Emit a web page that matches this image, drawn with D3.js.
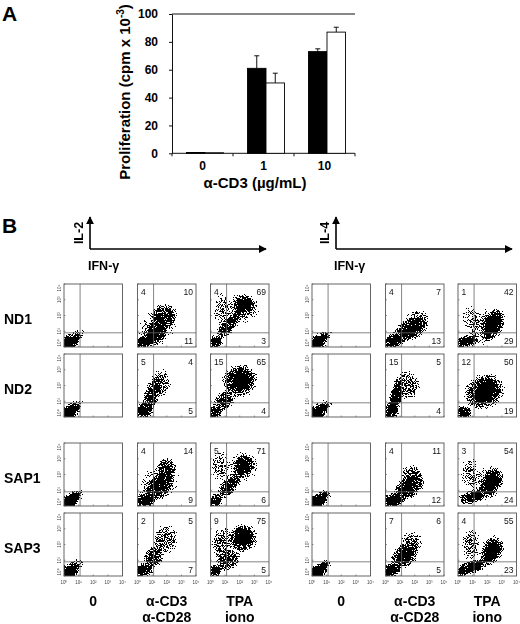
<!DOCTYPE html>
<html><head><meta charset="utf-8">
<script src="https://cdn.jsdelivr.net/npm/d3@7"></script>
<style>
body{margin:0;background:#fff}
svg{display:block;font-family:"Liberation Sans",Arial,sans-serif}
</style></head><body>
<svg id="fig" width="520" height="624"></svg>
<script>
// ---- panel A: proliferation ----
const doses = ["0", "1", "10"];
const blackMean = [0.6, 61, 73];
const blackErr = [0, 9, 2];
const whiteMean = [0.4, 50.5, 87];
const whiteErr = [0, 7, 3.5];
const prolifTicks = [0, 20, 40, 60, 80, 100];

// ---- panel B: intracellular cytokines ----
const donors = ["ND1", "ND2", "SAP1", "SAP3"];
const stimuli = [["0"], ["α-CD3", "α-CD28"], ["TPA", "iono"]];
const decades = [0, 1, 2, 3, 4];
const gateIFN = 1.1, gateCyto = 0.9;
// quadrant % [upper-left, upper-right, lower-right] for the two stimulated columns
const il2Quad = [
  [[4, 10, 11], [4, 69, 3]],
  [[5, 4, 5], [15, 65, 4]],
  [[4, 14, 9], [5, 71, 6]],
  [[2, 5, 7], [9, 75, 5]]
];
const il4Quad = [
  [[4, 7, 13], [1, 42, 29]],
  [[15, 5, 4], [12, 50, 19]],
  [[4, 11, 12], [3, 54, 24]],
  [[7, 6, 5], [4, 55, 23]]
];
// dot clouds: [IFN decade, cytokine decade, rx, ry, angle, density]
const wedge = [[0.0, 0.0, 1.75, 0.55, 40, 1], [0.3, 0.2, 1.1, 0.35, 40, 1], [0.1, 0.05, 0.8, 0.55, 40, 1],
  [0.35, 0.25, 1.0, 0.28, 40, 1], [0.05, 0.05, 0.6, 0.6, 0, 1]];
const il2Clouds = [
  [wedge,
   [[0.45, 0.3, 0.8, 0.45, 20, 1], [1.2, 0.9, 1.1, 0.7, 45, 0.8], [1.8, 1.9, 1.0, 0.85, 55, 0.6], [1.4, 1.3, 1.6, 1.1, 45, 0.3]],
   [[2.3, 2.65, 0.75, 0.65, 20, 1], [0.3, 0.3, 0.6, 0.45, 30, 1], [1.25, 1.4, 1.3, 0.5, 50, 0.65], [0.8, 2.4, 0.6, 1.1, 0, 0.35], [2.2, 2.5, 1.2, 1.0, 20, 0.4]]],
  [wedge,
   [[0.45, 0.4, 0.65, 0.55, 40, 1], [1.0, 1.4, 0.6, 1.3, -20, 0.65], [1.6, 2.2, 0.7, 0.9, 0, 0.4]],
   [[2.0, 2.3, 1.25, 1.1, 20, 0.85], [2.1, 2.3, 0.65, 0.6, 0, 1], [0.3, 0.3, 0.55, 0.45, 0, 0.9], [0.9, 1.0, 0.9, 0.6, 45, 0.6]]],
  [wedge,
   [[0.5, 0.35, 0.9, 0.5, 15, 1], [1.5, 1.3, 1.3, 0.75, 45, 0.7], [2.0, 2.4, 0.7, 0.75, 0, 0.55], [1.5, 1.5, 1.6, 1.1, 45, 0.3]],
   [[2.3, 2.6, 0.7, 0.65, 20, 1], [1.3, 1.3, 1.4, 0.55, 50, 0.6], [0.3, 0.3, 0.55, 0.45, 0, 0.9], [0.7, 2.5, 0.65, 1.1, 0, 0.35], [2.2, 2.5, 1.1, 0.95, 20, 0.4]]],
  [wedge,
   [[0.4, 0.35, 0.75, 0.5, 20, 1], [1.1, 1.2, 0.9, 0.65, 60, 0.65], [1.9, 2.3, 0.9, 1.0, 0, 0.45]],
   [[2.2, 2.4, 1.05, 0.95, 20, 0.95], [2.3, 2.5, 0.6, 0.6, 0, 1], [0.8, 2.0, 0.7, 1.2, 0, 0.45], [0.3, 0.3, 0.5, 0.45, 0, 0.85], [1.2, 1.0, 1.0, 0.65, 40, 0.6]]]
];
const il4Clouds = [
  [wedge,
   [[0.5, 0.35, 1.0, 0.5, 20, 1], [1.7, 1.1, 1.35, 0.7, 25, 0.75], [2.2, 1.7, 0.9, 0.65, 0, 0.45]],
   [[2.4, 1.4, 1.25, 0.7, 65, 0.95], [2.3, 1.5, 0.8, 0.45, 65, 1], [0.6, 0.35, 0.9, 0.4, 10, 0.9], [0.9, 1.8, 0.65, 0.9, 0, 0.3], [1.9, 1.3, 1.5, 1.0, 45, 0.35]]],
  [wedge,
   [[0.4, 0.4, 0.6, 0.55, 0, 1], [0.7, 1.3, 0.45, 1.3, -10, 0.85], [1.5, 2.0, 0.9, 1.0, 0, 0.45]],
   [[1.8, 1.6, 1.5, 1.15, 30, 0.75], [2.0, 1.7, 0.8, 0.75, 30, 0.7], [0.4, 0.3, 0.65, 0.45, 0, 0.85]]],
  [wedge,
   [[0.5, 0.35, 1.0, 0.5, 15, 1], [1.6, 1.2, 1.25, 0.75, 35, 0.75], [1.8, 2.0, 0.75, 0.65, 0, 0.5]],
   [[2.3, 1.5, 1.15, 0.7, 65, 1], [2.3, 1.5, 0.75, 0.45, 65, 1], [1.0, 0.6, 1.1, 0.45, 15, 0.8], [0.8, 2.1, 0.65, 1.0, 0, 0.35], [1.9, 1.4, 1.5, 1.0, 45, 0.3]]],
  [wedge,
   [[0.4, 0.35, 0.75, 0.5, 20, 1], [1.3, 1.3, 1.15, 0.75, 40, 0.75], [1.8, 2.1, 0.75, 0.75, 0, 0.45]],
   [[2.3, 1.6, 1.15, 0.75, 60, 1], [2.3, 1.6, 0.75, 0.5, 60, 1], [1.0, 0.6, 1.1, 0.45, 15, 0.8], [0.9, 2.0, 0.65, 1.1, 0, 0.4], [0.3, 0.25, 0.5, 0.4, 0, 0.9]]]
];

const svg = d3.select("#fig");
const defs = svg.append("defs");

// ---------- panel A ----------
svg.append("text").attr("x", 2).attr("y", 21)
  .style("font-size", "21px").style("font-weight", "bold").text("A");

const xA = d3.scaleBand().domain(doses).range([172, 355]);
const yA = d3.scaleLinear().domain([0, 100]).range([153.3, 14]);
const xS = d3.scaleBand().domain(["black", "white"]).range([14.5, 51.5]);

const gA = svg.append("g");
gA.append("g")
  .attr("transform", `translate(${xA.range()[0]},0)`)
  .call(d3.axisLeft(yA).tickValues(prolifTicks).tickSize(3).tickPadding(11).tickSizeOuter(0))
  .call(g => g.selectAll("text").style("font-size", "12px").style("font-weight", "bold")
    .style("font-family", "'Liberation Sans',Arial,sans-serif"))
  .call(g => g.selectAll("line,path").attr("stroke", "#111"));

gA.append("line").attr("x1", xA.range()[0]).attr("x2", xA.range()[1])
  .attr("y1", yA(100)).attr("y2", yA(100)).attr("stroke", "#111");
gA.append("line").attr("x1", xA.range()[0]).attr("x2", xA.range()[1])
  .attr("y1", yA(0)).attr("y2", yA(0)).attr("stroke", "#111");
gA.selectAll(".btick").data(doses.concat(["end"])).join("line")
  .attr("x1", (d, i) => xA.range()[0] + i * xA.bandwidth())
  .attr("x2", (d, i) => xA.range()[0] + i * xA.bandwidth())
  .attr("y1", yA(0)).attr("y2", yA(0) + 3).attr("stroke", "#111");

gA.selectAll(".xlab").data(doses).join("text")
  .attr("x", d => xA(d) + xA.bandwidth() / 2).attr("y", 170)
  .attr("text-anchor", "middle").style("font-size", "12px").style("font-weight", "bold")
  .text(d => d);

const barData = doses.flatMap((d, i) => [
  {dose: d, s: "black", v: blackMean[i], e: blackErr[i]},
  {dose: d, s: "white", v: whiteMean[i], e: whiteErr[i]}
]);
const bars = gA.selectAll(".bar").data(barData).join("g");
bars.append("line")
  .attr("x1", d => xA(d.dose) + xS(d.s) + xS.bandwidth() / 2)
  .attr("x2", d => xA(d.dose) + xS(d.s) + xS.bandwidth() / 2)
  .attr("y1", d => yA(d.v)).attr("y2", d => yA(d.v + d.e))
  .attr("stroke", "#111").style("display", d => d.e ? null : "none");
bars.append("line")
  .attr("x1", d => xA(d.dose) + xS(d.s) + xS.bandwidth() / 2 - 2.5)
  .attr("x2", d => xA(d.dose) + xS(d.s) + xS.bandwidth() / 2 + 2.5)
  .attr("y1", d => yA(d.v + d.e)).attr("y2", d => yA(d.v + d.e))
  .attr("stroke", "#111").style("display", d => d.e ? null : "none");
bars.append("rect")
  .attr("x", d => xA(d.dose) + xS(d.s))
  .attr("width", xS.bandwidth())
  .attr("y", d => yA(d.v)).attr("height", d => yA(0) - yA(d.v))
  .attr("fill", d => d.s === "black" ? "#000" : "#fff")
  .attr("stroke", "#000").attr("stroke-width", 0.9);

const yt = gA.append("text").attr("transform", "translate(130,92) rotate(-90)")
  .attr("text-anchor", "middle").style("font-size", "15px").style("font-weight", "bold");
yt.append("tspan").text("Proliferation (cpm x 10");
yt.append("tspan").attr("dy", -6).style("font-size", "10px").text("-3");
yt.append("tspan").attr("dy", 6).text(")");

gA.append("text").attr("x", 255).attr("y", 188).attr("text-anchor", "middle")
  .style("font-size", "15px").style("font-weight", "bold").text("α-CD3 (µg/mL)");

// ---------- panel B ----------
svg.append("text").attr("x", 2).attr("y", 233)
  .style("font-size", "21px").style("font-weight", "bold").text("B");

defs.append("marker").attr("id", "arrow").attr("viewBox", "0 0 10 10")
  .attr("refX", 9).attr("refY", 5).attr("markerWidth", 5).attr("markerHeight", 5)
  .attr("orient", "auto")
  .append("path").attr("d", "M0,0L10,5L0,10Z").attr("fill", "#000");

const grad = defs.append("radialGradient").attr("id", "cloud");
[[0, 1], [0.4, 0.95], [0.75, 0.6], [1, 0]].forEach(s =>
  grad.append("stop").attr("offset", s[0]).attr("stop-color", "#000").attr("stop-opacity", s[1]));

// stipple: keep a pixel where the cloud density beats a noise field
const filt = defs.append("filter").attr("id", "stipple")
  .attr("filterUnits", "userSpaceOnUse").attr("x", 0).attr("y", 0)
  .attr("width", 520).attr("height", 624)
  .attr("color-interpolation-filters", "sRGB");
filt.append("feTurbulence").attr("type", "fractalNoise").attr("baseFrequency", 0.9)
  .attr("numOctaves", 2).attr("seed", 7).attr("result", "noise");
filt.append("feColorMatrix").attr("in", "noise").attr("type", "matrix")
  .attr("values", "0 0 0 0 0  0 0 0 0 0  0 0 0 0 0  2.6 0 0 0 -0.8").attr("result", "n0");
const nf = filt.append("feComponentTransfer").attr("in", "n0").attr("result", "n");
nf.append("feFuncA").attr("type", "linear").attr("slope", 0.94).attr("intercept", 0.04);
filt.append("feComposite").attr("in", "SourceGraphic").attr("in2", "n")
  .attr("operator", "arithmetic").attr("k1", 0).attr("k2", 1).attr("k3", -1).attr("k4", 0.5)
  .attr("result", "diff");
const ct = filt.append("feComponentTransfer").attr("in", "diff");
ct.append("feFuncR").attr("type", "linear").attr("slope", 0).attr("intercept", 0);
ct.append("feFuncG").attr("type", "linear").attr("slope", 0).attr("intercept", 0);
ct.append("feFuncB").attr("type", "linear").attr("slope", 0).attr("intercept", 0);
ct.append("feFuncA").attr("type", "discrete").attr("tableValues", "0 1");

const rowTops = [284, 354, 443, 513];
const boxW = 58.5, boxH = 63;
const panels = [
  {key: "il2", label: "IL-2", axisX: 90, cols: [64, 137.5, 210.5], clouds: il2Clouds, quad: il2Quad},
  {key: "il4", label: "IL-4", axisX: 336, cols: [312, 385.5, 458], clouds: il4Clouds, quad: il4Quad}
];

const blobLayer = svg.append("g").attr("filter", "url(#stipple)");
const frameLayer = svg.append("g");

panels.forEach(p => {
  // axis key
  frameLayer.append("line").attr("x1", p.axisX).attr("x2", p.axisX)
    .attr("y1", 249).attr("y2", 217).attr("stroke", "#000").attr("stroke-width", 1.6)
    .attr("marker-end", "url(#arrow)");
  frameLayer.append("line").attr("x1", p.axisX).attr("x2", p.axisX + 176)
    .attr("y1", 249).attr("y2", 249).attr("stroke", "#000").attr("stroke-width", 1.6)
    .attr("marker-end", "url(#arrow)");
  frameLayer.append("text").attr("transform", `translate(${p.axisX - 7},233) rotate(-90)`)
    .attr("text-anchor", "middle").style("font-size", "12.5px").style("font-weight", "bold")
    .text(p.label);
  frameLayer.append("text").attr("x", p.axisX - 2).attr("y", 270)
    .style("font-size", "12.5px").style("font-weight", "bold").text("IFN-γ");

  stimuli.forEach((st, c) => {
    const left = p.cols[c];
    const lab = frameLayer.append("text").attr("text-anchor", "middle")
      .style("font-size", "14px").style("font-weight", "bold");
    st.forEach((t, k) => lab.append("tspan").attr("x", left + boxW / 2)
      .attr("y", 606 + k * 16).text(t));
  });

  donors.forEach((donor, r) => {
    const top = rowTops[r];
    if (p.key === "il2") {
      frameLayer.append("text").attr("x", 4).attr("y", top + boxH / 2 + 8)
        .style("font-size", "14px").style("font-weight", "bold").text(donor);
    }
    stimuli.forEach((st, c) => {
      const left = p.cols[c];
      const x = d3.scaleLinear().domain([0, 4]).range([left, left + boxW]);
      const y = d3.scaleLinear().domain([0, 4]).range([top + boxH, top]);
      const id = `clip-${p.key}-${r}-${c}`;
      defs.append("clipPath").attr("id", id).append("rect")
        .attr("x", left).attr("y", top).attr("width", boxW).attr("height", boxH);

      blobLayer.append("g").attr("clip-path", `url(#${id})`)
        .selectAll("ellipse").data(p.clouds[r][c]).join("ellipse")
        .attr("cx", d => x(d[0])).attr("cy", d => y(d[1]))
        .attr("rx", d => x(d[2]) - x(0)).attr("ry", d => y(0) - y(d[3]))
        .attr("transform", d => `rotate(${-d[4]},${x(d[0])},${y(d[1])})`)
        .attr("fill", "url(#cloud)").attr("fill-opacity", d => Math.min(1, d[5] * 1.35));

      const g = frameLayer.append("g");
      g.append("line").attr("x1", x(gateIFN)).attr("x2", x(gateIFN))
        .attr("y1", top).attr("y2", top + boxH).attr("stroke", "#666").attr("stroke-width", 0.8);
      g.append("line").attr("x1", left).attr("x2", left + boxW)
        .attr("y1", y(gateCyto)).attr("y2", y(gateCyto)).attr("stroke", "#666").attr("stroke-width", 0.8);
      g.append("rect").attr("x", left).attr("y", top).attr("width", boxW).attr("height", boxH)
        .attr("fill", "none").attr("stroke", "#555").attr("stroke-width", 0.9);
      g.selectAll(".tk").data(decades).join("line")
        .attr("x1", left).attr("x2", left + 1.5).attr("y1", d => y(d)).attr("y2", d => y(d))
        .attr("stroke", "#555").attr("stroke-width", 0.6);
      g.selectAll(".tkx").data(decades).join("line")
        .attr("y1", top + boxH).attr("y2", top + boxH - 1.5).attr("x1", d => x(d)).attr("x2", d => x(d))
        .attr("stroke", "#555").attr("stroke-width", 0.6);

      if (c === 0) {
        g.selectAll(".yl").data(decades).join("text")
          .attr("transform", d => `translate(${left - 3},${Math.min(Math.max(y(d), top + 4), top + boxH - 4)}) rotate(-90)`)
          .attr("text-anchor", "middle").style("font-size", "4.5px").attr("fill", "#444")
          .text(d => "10" + "⁰¹²³⁴"[d]);
      }
      if (r === donors.length - 1) {
        g.selectAll(".xl").data(decades).join("text")
          .attr("x", d => x(d)).attr("y", top + boxH + 8)
          .attr("text-anchor", "middle").style("font-size", "4.5px").attr("fill", "#444")
          .text(d => "10" + "⁰¹²³⁴"[d]);
      }
      if (c > 0) {
        const q = p.quad[r][c - 1];
        const nums = [
          {v: q[0], x: left + 3.5, y: top + 11, a: "start"},
          {v: q[1], x: left + boxW - 3, y: top + 11, a: "end"},
          {v: q[2], x: left + boxW - 3, y: top + boxH - 3, a: "end"}
        ];
        g.selectAll(".qn").data(nums).join("text")
          .attr("x", d => d.x).attr("y", d => d.y).attr("text-anchor", d => d.a)
          .style("font-size", "8.5px").attr("fill", "#111").text(d => d.v);
      }
    });
  });
});
</script>
</body></html>
